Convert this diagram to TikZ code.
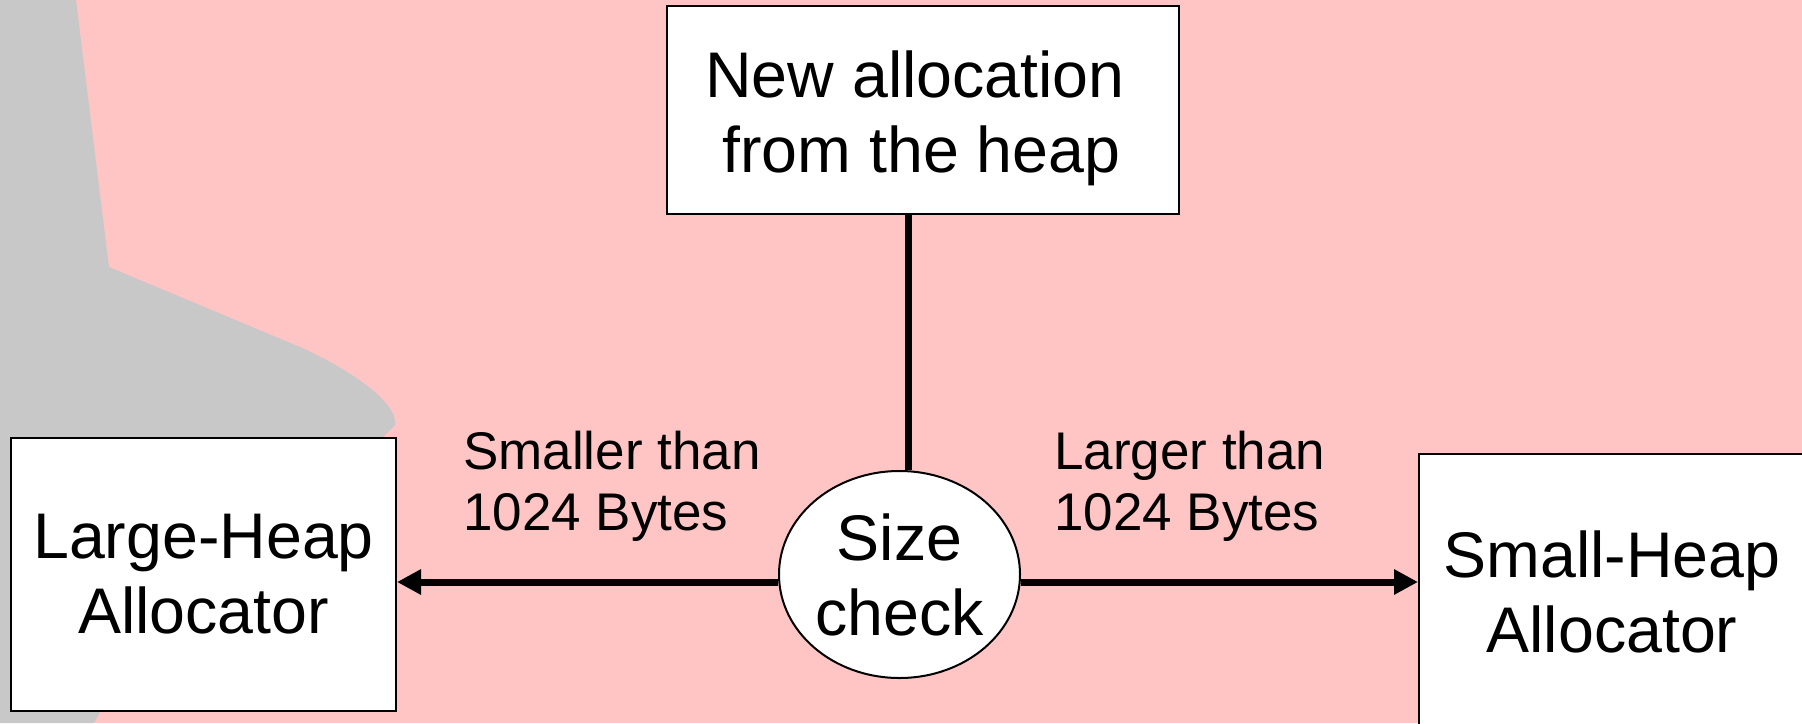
\documentclass[tikz,border=0pt]{standalone}
\usepackage{fontspec}
\setmainfont{Liberation Sans}
\usetikzlibrary{arrows.meta,shapes.geometric}

\definecolor{slidepink}{RGB}{255,197,197}
\definecolor{shadowgray}{RGB}{200,200,200}

\newcommand{\boxfont}{\fontsize{64.5}{75}\selectfont}
\newcommand{\labelfont}{\fontsize{53}{61}\selectfont}

\tikzset{
  box/.style={draw=black, line width=2pt, fill=white, inner sep=0pt,
    align=center, font=\boxfont},
  oval/.style={ellipse, draw=black, line width=2pt, fill=white, inner sep=0pt,
    align=center, font=\boxfont},
  boxtext/.style={inner sep=0pt, align=center, font=\boxfont},
  branchlabel/.style={inner sep=0pt, align=left, font=\labelfont, anchor=north west},
  stem/.style={line width=7pt, black},
  flow/.style={line width=7pt, black, -{Triangle[length=24pt,width=24pt]}}
}

\begin{document}
\begin{tikzpicture}[x=1pt,y=-1pt]
  \useasboundingbox (0,0) rectangle (1802,723);
  \clip (0,0) rectangle (1802,723);

  % slide background and the grey shape at the left edge
  \fill[slidepink] (0,0) rectangle (1802,723);
  \fill[shadowgray] (0,0) -- (76,0) -- (109,267) -- (300,347)
    .. controls (340,365) and (390,395) .. (395,420)
    -- (395,425) -- (382,438) -- (100,712) -- (94,723) -- (0,723) -- cycle;

  % nodes
  \node[box, minimum width=512pt, minimum height=208pt] (top) at (923,110) {};
  \node[boxtext] (toptext) at (915,111.5)
    {New allocation\\\hspace*{13pt}from the \raisebox{0pt}[\height][0pt]{heap}};
  \node[box, minimum width=385pt, minimum height=273pt] (large) at (203.5,574.5)
    {Large-Heap\\Allocator};
  \node[box, minimum width=386pt, minimum height=275pt] (small) at (1612,591.5)
    {Small-Heap\\Allocator};
  \node[oval, minimum width=241pt, minimum height=207pt] (size) at (899.5,574.5)
    {Size\\check};

  % connectors
  \draw[stem] ([xshift=-15pt]top.south) -- ([xshift=-15pt]top.south |- size.north);
  \draw[flow] ([yshift=-7.5pt]size.west) -- ([yshift=-7.5pt]size.west -| large.east);
  \draw[flow] ([yshift=-7.5pt]size.east) -- ([yshift=-7.5pt]size.east -| small.west);

  % branch labels
  \node[branchlabel] (smaller) at (463,431) {Smaller than\\1024 Bytes};
  \node[branchlabel] (larger) at (1054,431) {Larger than\\1024 Bytes};
\end{tikzpicture}
\end{document}
